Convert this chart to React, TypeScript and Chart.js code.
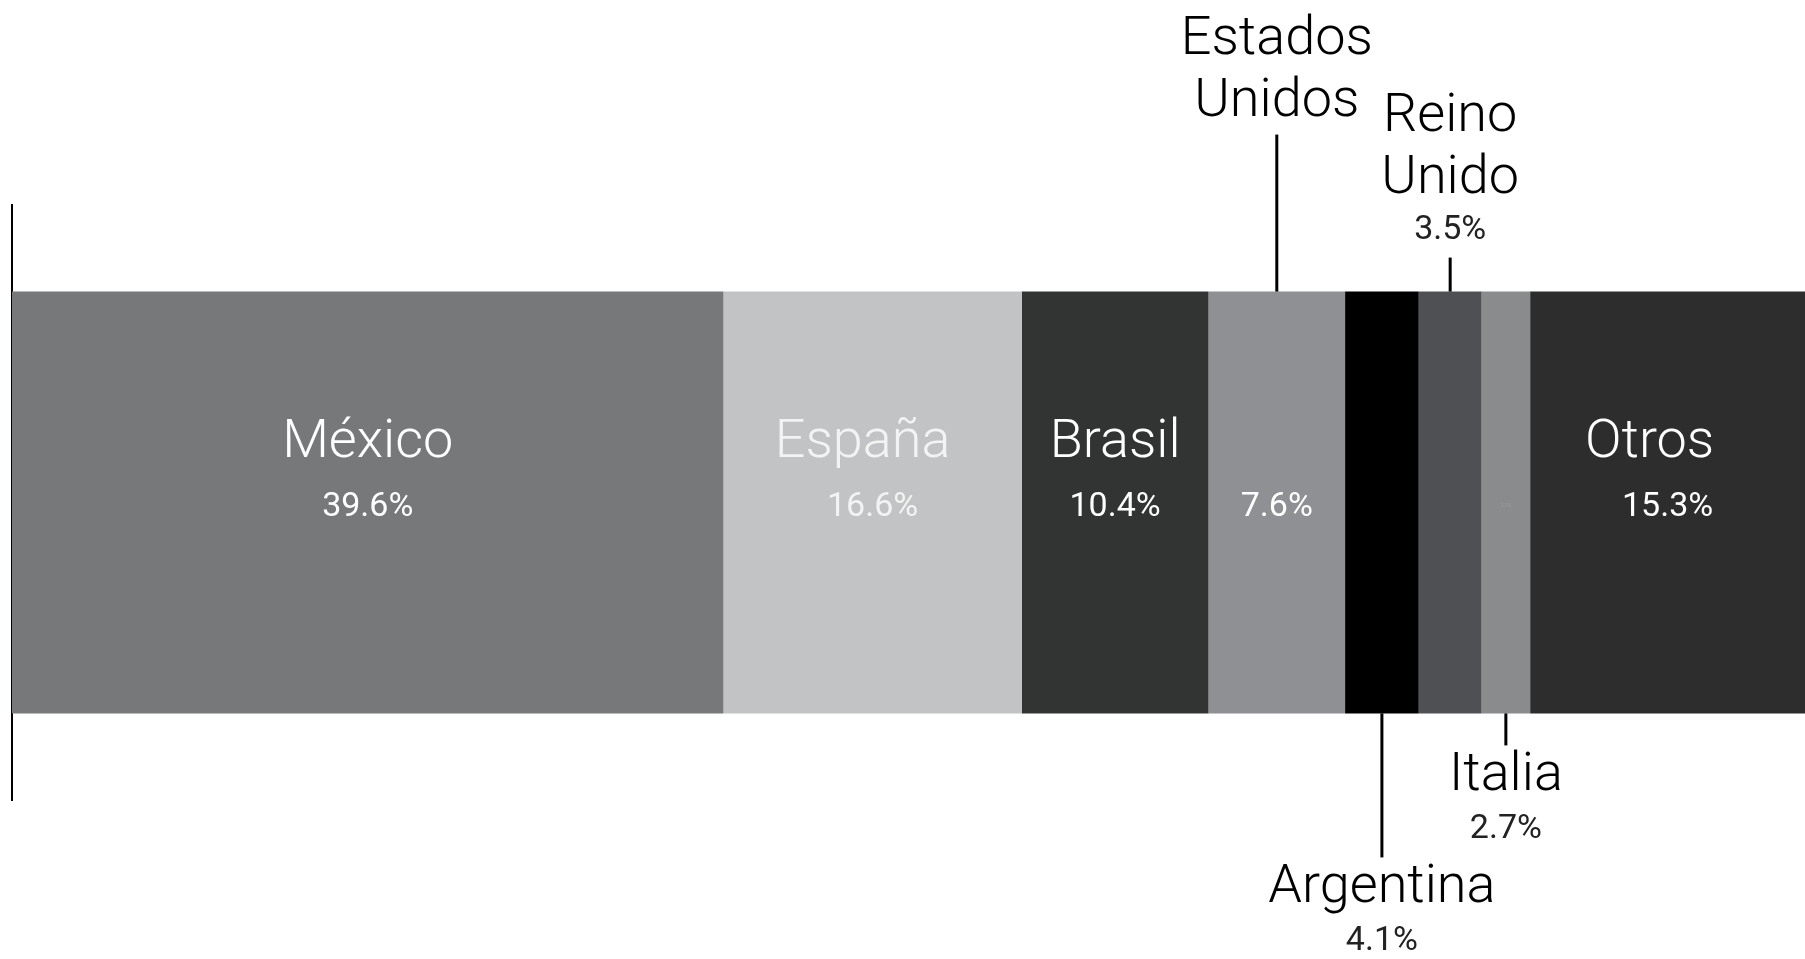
import React, { useEffect, useRef } from "react";
import { Chart, registerables } from "chart.js";

Chart.register(...registerables);

// ---- data ----
const countries = ["México", "España", "Brasil", "Estados Unidos", "Argentina", "Reino Unido", "Italia", "Otros"];
const nameLines = [["México"], ["España"], ["Brasil"], ["Estados", "Unidos"], ["Argentina"], ["Reino", "Unido"], ["Italia"], ["Otros"]];
const shares = [39.6, 16.6, 10.4, 7.6, 4.1, 3.5, 2.7, 15.3];
const percentLabels = ["39.6%", "16.6%", "10.4%", "7.6%", "4.1%", "3.5%", "2.7%", "15.3%"];

// ---- styles / label placement ----
const colors = ["#77787a", "#c2c3c5", "#323434", "#8f9094", "#000000", "#4f5053", "#8a8b8d", "#2d2d2d"];
const nameSide = ["inside", "inside", "inside", "above", "below", "above", "below", "inside"];
const pctSide = ["inside", "inside", "inside", "inside", "below", "above", "below", "inside"];
const leaderLength = [0, 0, 0, 157, 144, 34, 32, 0];
const nameOffsetX = [0, -10, 0, 0, 0, 0, 0, -18];
const tinyInside = [false, false, false, false, false, false, true, false];

const FONT = "Roboto, 'Liberation Sans', Arial, sans-serif";
const NAME_SIZE = 54;
const PCT_SIZE = 34;

const labelPlugin = {
  id: "segmentLabels",
  afterDatasetsDraw(chart: any) {
    const ctx = chart.ctx;
    ctx.save();
    ctx.textAlign = "center";
    ctx.textBaseline = "alphabetic";
    for (let i = 0; i < shares.length; i++) {
      const meta = chart.getDatasetMeta(i);
      const el = meta.data[0];
      if (!el) continue;
      const p = el.getProps(["x", "base", "y", "height"], true);
      const cx = (p.x + p.base) / 2;
      const top = p.y - p.height / 2;
      const bottom = p.y + p.height / 2;

      // inside labels
      if (nameSide[i] === "inside") {
        ctx.fillStyle = i === 1 ? "#f3f3f3" : "#ffffff";
        ctx.font = `300 ${NAME_SIZE}px ${FONT}`;
        ctx.fillText(nameLines[i].join(" "), cx + nameOffsetX[i], p.y - 46);
      }
      if (pctSide[i] === "inside") {
        ctx.fillStyle = i === 1 ? "#f3f3f3" : "#ffffff";
        ctx.font = `400 ${PCT_SIZE}px ${FONT}`;
        ctx.fillText(percentLabels[i], cx, p.y + 13);
      }
      if (tinyInside[i]) {
        ctx.fillStyle = "#a4a5a7";
        ctx.font = `300 5px ${FONT}`;
        ctx.fillText(percentLabels[i], cx, p.y + 4);
      }

      const L = leaderLength[i];
      if (L > 0) {
        ctx.strokeStyle = "#000";
        ctx.lineWidth = 3;
        ctx.beginPath();
        if (nameSide[i] === "above") {
          ctx.moveTo(cx, top);
          ctx.lineTo(cx, top - L);
        } else {
          ctx.moveTo(cx, bottom);
          ctx.lineTo(cx, bottom + L);
        }
        ctx.stroke();
      }

      if (nameSide[i] === "above") {
        const lines: { t: string; pct: boolean }[] = nameLines[i].map((t) => ({ t, pct: false }));
        if (pctSide[i] === "above") lines.push({ t: percentLabels[i], pct: true });
        let base = top - L - 19;
        for (let k = lines.length - 1; k >= 0; k--) {
          const ln = lines[k];
          ctx.fillStyle = ln.pct ? "#222" : "#000";
          ctx.font = ln.pct ? `400 ${PCT_SIZE}px ${FONT}` : `300 ${NAME_SIZE}px ${FONT}`;
          ctx.fillText(ln.t, cx, base);
          if (k > 0) base -= ln.pct ? 46 : 62;
        }
      } else if (nameSide[i] === "below") {
        let base = bottom + L + 45;
        for (const t of nameLines[i]) {
          ctx.fillStyle = "#000";
          ctx.font = `300 ${NAME_SIZE}px ${FONT}`;
          ctx.fillText(t, cx, base);
          base += 62;
        }
        if (pctSide[i] === "below") {
          base = base - 62 + 48;
          ctx.fillStyle = "#222";
          ctx.font = `400 ${PCT_SIZE}px ${FONT}`;
          ctx.fillText(percentLabels[i], cx, base);
        }
      }
    }
    ctx.restore();
  },
};

export default function App() {
  const ref = useRef<HTMLCanvasElement | null>(null);
  useEffect(() => {
    document.body.style.margin = "0";
    const canvas = ref.current;
    if (!canvas) return;
    const total = shares.reduce((a, b) => a + b, 0);
    const chart = new Chart(canvas, {
      type: "bar",
      data: {
        labels: [""],
        datasets: countries.map((c, i) => ({
          label: c,
          data: [shares[i]],
          backgroundColor: colors[i],
          borderWidth: 0,
          barPercentage: 0.709,
          categoryPercentage: 1,
        })),
      },
      options: {
        indexAxis: "y",
        animation: false,
        responsive: false,
        maintainAspectRatio: false,
        layout: { padding: { top: 205, bottom: 159, left: 12, right: 0 } },
        plugins: { legend: { display: false }, tooltip: { enabled: false }, title: { display: false } },
        scales: {
          x: { stacked: true, min: 0, max: total, display: false },
          y: {
            stacked: true,
            display: true,
            grid: { display: false, drawTicks: false },
            ticks: { display: false },
            border: { display: true, color: "#000", width: 2 },
          },
        },
      } as any,
      plugins: [labelPlugin],
    });
    return () => chart.destroy();
  }, []);
  return (
    <div style={{ position: "absolute", left: 0, top: 0, width: 1805, height: 959, background: "#fff" }}>
      <canvas ref={ref} width={1805} height={959} style={{ width: 1805, height: 959, display: "block" }} />
    </div>
  );
}
